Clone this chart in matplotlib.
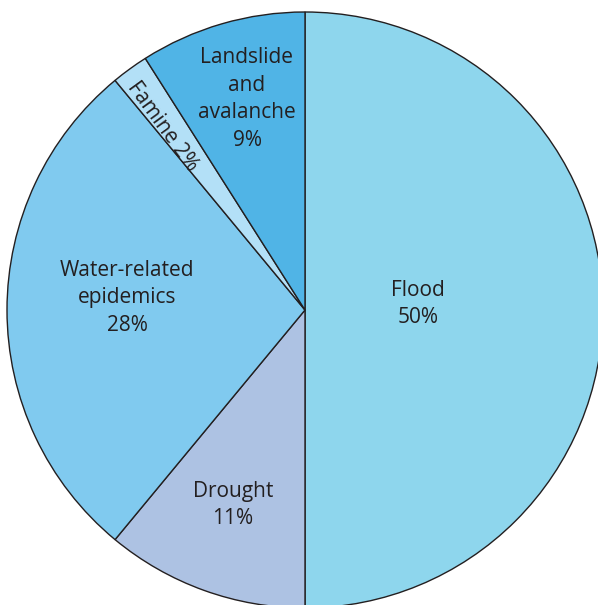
import matplotlib.pyplot as plt

# shares of disasters
categories = ['Flood', 'Drought', 'Water-related\nepidemics', 'Famine', 'Landslide\nand\navalanche']
shares = [50, 11, 28, 2, 9]
colors = ['#8ED6ED', '#ADC2E3', '#80CAEF', '#B3E0F7', '#50B4E6']

W, H = 598, 605
fig = plt.figure(figsize=(W / 100, H / 100), dpi=100)
ax = fig.add_axes([0, 0, 1, 1])

cx, cy, r = 305, H - 310, 298
ax.pie(shares, colors=colors, startangle=90, counterclock=False,
       center=(cx, cy), radius=r,
       wedgeprops=dict(edgecolor='#231F20', linewidth=1.0))

ax.set_xlim(0, W)
ax.set_ylim(0, H)
ax.set_aspect('equal')
ax.axis('off')

font = dict(family='Open Sans', fontsize=15, color='#231F20',
            ha='center', va='center', linespacing=1.4)

# label text placed by hand in pixel coords
label_pos = {
    'Flood': (418, 304),
    'Drought': (233, 505),
    'Water-related\nepidemics': (127, 298),
    'Landslide\nand\navalanche': (247, 99),
}
for cat, val in zip(categories, shares):
    if cat == 'Famine':
        ax.text(162, H - 126, f'{cat} {val}%', rotation=-54,
                rotation_mode='anchor', **font)
        continue
    x, y = label_pos[cat]
    ax.text(x, H - y, f'{cat}\n{val}%', **font)

fig.savefig('out.png', dpi=100)
